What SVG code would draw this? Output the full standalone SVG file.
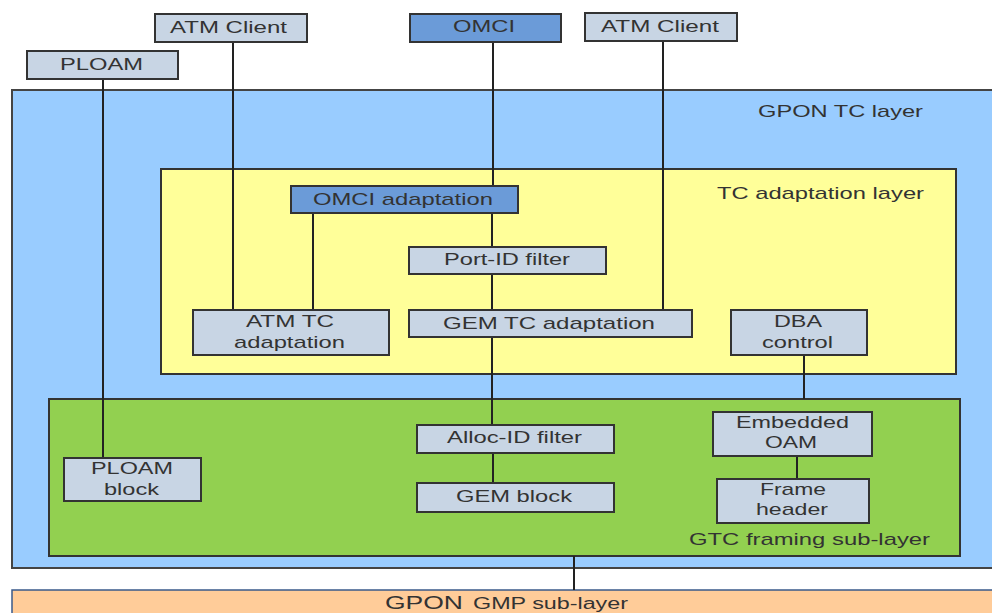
<svg xmlns="http://www.w3.org/2000/svg" width="992" height="613" viewBox="0 0 992 613">
<style>
text{font-family:"Liberation Sans",Arial,sans-serif;font-size:17px;fill:#333;text-anchor:middle}
.lt{text-anchor:start}
.box{fill:#c8d5e4;stroke:#333;stroke-width:2}
.om{fill:#6b9bd8;stroke:#333;stroke-width:2}
.ln{stroke:#222;stroke-width:2;fill:none}
</style>
<rect width="992" height="613" fill="#fff"/>
<g id="gpon-tc-layer"><rect x="12" y="90" width="990" height="478" fill="#99ccff" stroke="#444" stroke-width="2"/>
<text class="lt" x="758" y="117" textLength="165" lengthAdjust="spacingAndGlyphs">GPON TC layer</text></g>
<g id="tc-adaptation-layer"><rect x="161" y="169" width="795" height="205" fill="#ffff99" stroke="#333" stroke-width="2"/>
<text class="lt" x="717" y="199" textLength="207" lengthAdjust="spacingAndGlyphs">TC adaptation layer</text></g>
<g id="gtc-framing"><rect x="49" y="399" width="911" height="157" fill="#92d050" stroke="#333" stroke-width="2"/>
<text class="lt" x="689" y="545" textLength="241" lengthAdjust="spacingAndGlyphs">GTC framing sub-layer</text></g>
<g id="gmp-sub-layer"><rect x="12" y="590" width="990" height="40" fill="#ffcc99" stroke="#3a5a8a" stroke-width="1.5"/>
<text class="lt" x="385" y="609" style="font-size:19px" textLength="78" lengthAdjust="spacingAndGlyphs">GPON</text>
<text class="lt" x="473" y="609" style="font-size:16px" textLength="155" lengthAdjust="spacingAndGlyphs">GMP sub-layer</text></g>
<g id="connectors">
<line class="ln" x1="103" y1="79" x2="103" y2="458"/>
<line class="ln" x1="233" y1="42" x2="233" y2="310"/>
<line class="ln" x1="493" y1="42" x2="493" y2="186"/>
<line class="ln" x1="663" y1="41" x2="663" y2="310"/>
<line class="ln" x1="313" y1="213" x2="313" y2="310"/>
<line class="ln" x1="492" y1="213" x2="492" y2="247"/>
<line class="ln" x1="492" y1="274" x2="492" y2="310"/>
<line class="ln" x1="492" y1="337" x2="492" y2="425"/>
<line class="ln" x1="493" y1="453" x2="493" y2="483"/>
<line class="ln" x1="804" y1="355" x2="804" y2="399"/>
<line class="ln" x1="797" y1="456" x2="797" y2="479"/>
<line class="ln" x1="574" y1="556" x2="574" y2="590"/>
</g>
<g id="ploam"><rect class="box" x="27" y="51" width="151" height="28"/><text x="101.5" y="70" textLength="83" lengthAdjust="spacingAndGlyphs">PLOAM</text></g>
<g id="atm-client-1"><rect class="box" x="155" y="14" width="152" height="28"/><text x="228.5" y="33" textLength="117" lengthAdjust="spacingAndGlyphs">ATM Client</text></g>
<g id="omci"><rect class="om" x="410" y="14" width="151" height="28"/><text x="484" y="32" textLength="62" lengthAdjust="spacingAndGlyphs">OMCI</text></g>
<g id="atm-client-2"><rect class="box" x="585" y="13" width="152" height="28"/><text x="660" y="32" textLength="118" lengthAdjust="spacingAndGlyphs">ATM Client</text></g>
<g id="omci-adaptation"><rect class="om" x="291" y="186" width="227" height="27"/><text x="403" y="205" textLength="180" lengthAdjust="spacingAndGlyphs">OMCI adaptation</text></g>
<g id="port-id-filter"><rect class="box" x="409" y="247" width="197" height="27"/><text x="507" y="265" textLength="126" lengthAdjust="spacingAndGlyphs">Port-ID filter</text></g>
<g id="atm-tc-adaptation"><rect class="box" x="193" y="310" width="196" height="45"/><text x="290" y="327" textLength="88" lengthAdjust="spacingAndGlyphs">ATM TC</text><text x="289.5" y="348" textLength="111" lengthAdjust="spacingAndGlyphs">adaptation</text></g>
<g id="gem-tc-adaptation"><rect class="box" x="409" y="310" width="283" height="27"/><text x="549" y="329" textLength="212" lengthAdjust="spacingAndGlyphs">GEM TC adaptation</text></g>
<g id="dba-control"><rect class="box" x="731" y="310" width="136" height="45"/><text x="798" y="327" textLength="48" lengthAdjust="spacingAndGlyphs">DBA</text><text x="797.5" y="348" textLength="71" lengthAdjust="spacingAndGlyphs">control</text></g>
<g id="ploam-block"><rect class="box" x="64" y="458" width="137" height="43"/><text x="132" y="474" textLength="82" lengthAdjust="spacingAndGlyphs">PLOAM</text><text x="131.5" y="495" textLength="55" lengthAdjust="spacingAndGlyphs">block</text></g>
<g id="alloc-id-filter"><rect class="box" x="417" y="425" width="197" height="28"/><text x="514.5" y="443" textLength="135" lengthAdjust="spacingAndGlyphs">Alloc-ID filter</text></g>
<g id="gem-block"><rect class="box" x="417" y="483" width="197" height="29"/><text x="514" y="502" textLength="116" lengthAdjust="spacingAndGlyphs">GEM block</text></g>
<g id="embedded-oam"><rect class="box" x="713" y="412" width="159" height="44"/><text x="792.5" y="428" textLength="113" lengthAdjust="spacingAndGlyphs">Embedded</text><text x="791" y="448" textLength="52" lengthAdjust="spacingAndGlyphs">OAM</text></g>
<g id="frame-header"><rect class="box" x="717" y="479" width="152" height="44"/><text x="793" y="495" textLength="66" lengthAdjust="spacingAndGlyphs">Frame</text><text x="792" y="515" textLength="72" lengthAdjust="spacingAndGlyphs">header</text></g>
</svg>
